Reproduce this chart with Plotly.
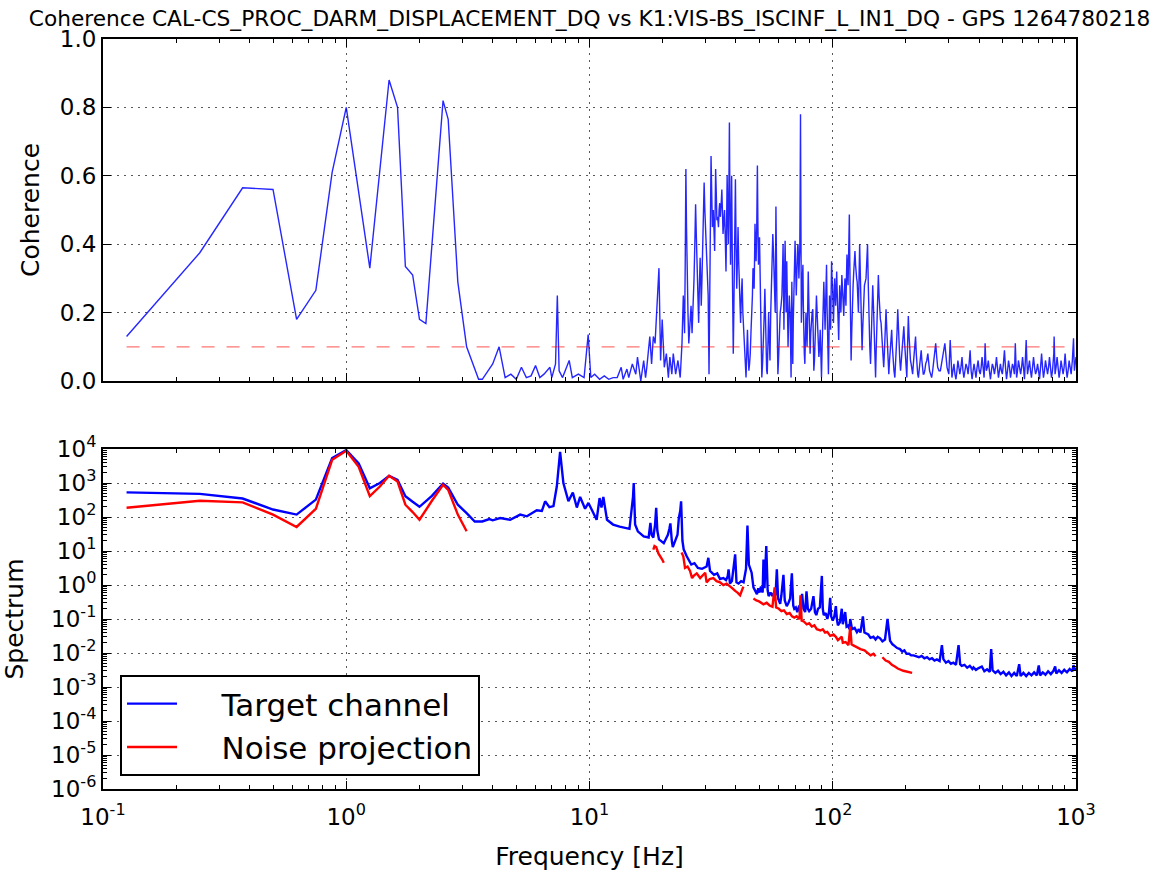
import plotly.graph_objects as go
from plotly.subplots import make_subplots

TITLE = "Coherence CAL-CS_PROC_DARM_DISPLACEMENT_DQ vs K1:VIS-BS_ISCINF_L_IN1_DQ - GPS 1264780218"
THRESHOLD = 0.1

# ---------------- Coherence (top panel) ----------------
coh_freq = [
    0.125, 0.25, 0.375, 0.5, 0.625, 0.75, 0.875, 1.0, 1.25, 1.5, 1.625, 1.75, 1.875, 2.0, 2.125, 2.5, 2.625, 2.875, 3.125, 3.5, 3.625, 4.0, 4.25,
    4.5, 4.75, 5.0, 5.25, 5.5, 5.75, 6.0, 6.25, 6.5, 6.875, 7.0, 7.25, 7.375, 7.5, 7.75, 8.25, 8.5, 9.0, 9.5, 9.875, 10.125, 10.5, 11.0, 11.5, 12.0, 12.5, 13.0, 13.5, 13.75, 14.25, 14.5, 15.0, 15.5, 15.75, 16.25,
    16.7, 17.0, 17.2, 17.7, 18.0, 18.3, 18.6, 18.9, 19.3, 19.6, 19.9, 20.3, 20.7, 21.1, 21.4, 21.8, 22.1, 22.6, 23.1, 23.6, 24.0, 24.3, 24.6, 24.9, 25.2, 25.6, 25.9, 26.4, 26.9, 27.3, 27.7, 28.1, 28.5, 28.8, 29.2, 29.6, 30.0, 30.5,
    31.0, 31.3, 31.6, 32.0, 32.3, 32.7, 33.0, 33.4, 33.9, 34.3, 34.7, 35.0, 35.4, 35.9, 36.4, 36.8, 37.2, 37.6, 38.0, 38.4, 39.0, 39.4, 39.8, 40.3, 40.8, 41.3, 41.8, 42.4, 43.0, 43.5, 44.0, 44.6, 45.2, 45.8, 46.5, 47.0, 47.5, 47.9,
    48.4, 49.0, 49.5, 50.0, 50.5, 51.1, 51.8, 52.6, 53.2, 53.8, 54.5, 55.2, 56.0, 56.7, 57.4, 58.0, 58.4, 58.9, 59.5, 60.2, 60.8, 61.8, 62.5, 63.0, 63.7, 64.3, 64.7, 65.5, 66.3, 66.8, 67.4, 67.9, 68.5, 69.2, 70.0, 70.8, 71.4, 72.0,
    72.6, 73.2, 73.7, 74.3, 74.8, 75.4, 76.0, 76.8, 77.6, 78.4, 79.3, 80.0, 80.7, 81.7, 82.8, 83.6, 84.6, 85.7, 86.8, 87.7, 88.8, 89.9, 91.0, 91.9, 93.0, 94.3, 95.2, 96.0, 97.0, 98.0, 98.9, 99.8, 100.7, 101.8, 102.8, 103.8,
    104.8, 105.8, 106.8, 108.0, 109.0, 110.0, 111.0, 112.2, 113.3, 114.4, 115.6, 117.0, 118.0, 119.0, 120.5, 122.0, 123.4, 124.8, 126.0, 127.5, 129.0, 130.5, 132.0, 133.5, 135.0, 137.0, 139.0, 141.0, 143.0, 146.0, 148.0, 150.0,
    152.0, 154.0, 156.0, 158.0, 160.0, 162.0, 164.0, 165.6, 168.0, 170.0, 172.5, 174.7, 177.0, 180.0, 182.5, 185.0, 187.5, 190.0, 193.0, 196.0, 199.0, 201.6, 204.5, 207.5, 210.0, 213.0, 216.0, 219.0, 222.0, 225.0, 228.0, 231.0,
    234.0, 237.0, 241.0, 246.0, 250.0, 255.0, 260.0, 265.0, 270.0, 277.0, 283.0, 289.0, 295.0, 300.0,
    304, 309, 315, 321, 327, 333, 340, 346, 353, 360, 367, 374, 381, 388, 396, 404, 411, 419, 423, 428, 436, 445, 453, 462, 471, 480, 489, 498, 508, 518, 528, 538, 548, 558, 563, 570, 580, 592, 603, 614,
    624, 632, 644, 656, 669, 682, 695, 708, 722, 735, 749, 764, 778, 793, 808, 813, 820, 836, 852, 868, 885, 902, 919, 937, 955, 977, 985, 1000,
]
coh_value = [
    0.13, 0.375, 0.565, 0.56, 0.18, 0.265, 0.61, 0.80, 0.33, 0.88, 0.80, 0.335, 0.31, 0.18, 0.168, 0.82, 0.765, 0.29, 0.10, 0.005, 0.005, 0.05, 0.10,
    0.01, 0.02, 0.005, 0.04, 0.01, 0.015, 0.045, 0.01, 0.02, 0.04, 0.01, 0.05, 0.25, 0.03, 0.01, 0.06, 0.01, 0.02, 0.01, 0.136, 0.01, 0.02, 0.005, 0.015, 0.005, 0.01, 0.01, 0.04, 0.005, 0.035, 0.01, 0.05, 0.02, 0.07, 0.0,
    0.06, 0.01, 0.04, 0.13, 0.05, 0.13, 0.11, 0.2, 0.33, 0.06, 0.18, 0.04, 0.08, 0.01, 0.07, 0.02, 0.08, 0.02, 0.06, 0.01, 0.11, 0.25, 0.14, 0.62, 0.29, 0.11, 0.18, 0.14, 0.3, 0.517, 0.3, 0.17, 0.36, 0.22, 0.385, 0.58, 0.45, 0.36,
    0.02, 0.3, 0.658, 0.45, 0.5, 0.38, 0.62, 0.47, 0.45, 0.52, 0.5, 0.56, 0.43, 0.5, 0.32, 0.6, 0.4, 0.756, 0.34, 0.6, 0.08, 0.35, 0.59, 0.27, 0.45, 0.29, 0.17, 0.3, 0.15, 0.05, 0.01, 0.15, 0.03, 0.08, 0.2, 0.33, 0.27, 0.46,
    0.35, 0.63, 0.34, 0.42, 0.15, 0.01, 0.1, 0.27, 0.05, 0.02, 0.2, 0.06, 0.3, 0.43, 0.33, 0.2, 0.51, 0.25, 0.02, 0.12, 0.2, 0.25, 0.4, 0.15, 0.41, 0.2, 0.35, 0.1, 0.25, 0.2, 0.01, 0.29, 0.05, 0.3, 0.41, 0.25, 0.38, 0.4,
    0.3, 0.39, 0.78, 0.17, 0.28, 0.34, 0.1, 0.05, 0.2, 0.1, 0.32, 0.15, 0.08, 0.2, 0.21, 0.03, 0.1, 0.25, 0.17, 0.07, 0.15, 0.01, 0.2, 0.29, 0.15, 0.34, 0.1, 0.02, 0.25, 0.15, 0.35, 0.28, 0.17, 0.3, 0.22, 0.32,
    0.2, 0.12, 0.28, 0.2, 0.31, 0.25, 0.19, 0.3, 0.22, 0.37, 0.28, 0.487, 0.2, 0.06, 0.25, 0.32, 0.38, 0.3, 0.29, 0.2, 0.40, 0.25, 0.09, 0.2, 0.28, 0.3, 0.40, 0.15, 0.05, 0.28, 0.15, 0.01,
    0.2, 0.31, 0.2, 0.17, 0.1, 0.04, 0.12, 0.21, 0.1, 0.02, 0.1, 0.15, 0.06, 0.01, 0.08, 0.21, 0.1, 0.03, 0.1, 0.16, 0.06, 0.01, 0.19, 0.08, 0.05, 0.02, 0.08, 0.13, 0.04, 0.01, 0.06, 0.09,
    0.03, 0.02, 0.05, 0.08, 0.03, 0.01, 0.06, 0.11, 0.04, 0.03, 0.08, 0.11, 0.04, 0.02,
    0.12, 0.01, 0.05, 0.005, 0.06, 0.02, 0.07, 0.01, 0.05, 0.02, 0.09, 0.005, 0.05, 0.01, 0.06, 0.02, 0.07, 0.01, 0.11, 0.03, 0.06, 0.005, 0.05, 0.02, 0.07, 0.01, 0.05, 0.02, 0.09, 0.005, 0.06, 0.01, 0.05, 0.02, 0.11, 0.01, 0.06, 0.02, 0.07, 0.005,
    0.12, 0.02, 0.06, 0.01, 0.07, 0.02, 0.05, 0.005, 0.08, 0.01, 0.06, 0.02, 0.07, 0.01, 0.06, 0.13, 0.02, 0.07, 0.01, 0.06, 0.02, 0.08, 0.01, 0.06, 0.02, 0.125, 0.03, 0.07,
]
coh_extra_freq = [
    24.45, 24.75, 25.05, 25.4, 25.75, 26.15, 26.65, 27.1, 27.5, 27.9, 28.3, 28.65, 29.0, 29.4, 29.8, 30.25, 30.75, 31.15, 31.45, 31.8, 32.15, 32.5, 32.85, 33.2, 33.65, 34.1, 34.5, 34.85, 35.2, 35.65,
    36.15, 36.6, 37.0, 37.4, 37.8, 38.2, 38.7, 39.2, 39.6, 40.05, 40.55, 41.05, 41.55, 42.1, 42.7, 43.25, 43.75, 44.3, 44.9, 45.5, 46.15, 46.75, 47.25, 47.7, 48.15, 48.7, 49.25, 49.75, 50.25, 50.8,
    51.45, 52.2, 52.9, 53.5, 54.15, 54.85, 55.6, 56.35, 57.05, 57.7, 58.2, 58.65, 59.2, 59.85, 60.5, 61.3, 62.15, 62.75, 63.35, 64.0, 64.5, 65.1, 65.9, 66.55, 67.1, 67.65, 68.2, 68.85, 69.6, 70.4,
    71.1, 71.7, 72.3, 72.9, 73.45, 74.0, 74.55, 75.1, 75.7, 76.4, 77.2, 78.0, 78.85, 79.65, 80.35, 81.2, 82.25, 83.2, 84.1, 85.15, 86.25, 87.25, 88.25, 89.35, 90.45, 91.45, 92.45, 93.65, 94.75, 95.6,
    96.5, 97.5, 98.45, 99.35, 100.25, 101.25, 102.3, 103.3, 104.3, 105.3, 106.3, 107.4, 108.5, 109.5, 110.5, 111.6, 112.75, 113.85, 115.0, 116.3, 117.5, 118.5, 119.75, 121.25, 122.7, 124.1, 125.4, 126.75, 128.25, 129.75,
    131.25, 132.75, 134.25, 136.0, 138.0, 140.0, 142.0, 144.5, 147.0, 149.0, 151.0, 153.0, 155.0, 157.0, 159.0, 161.0, 163.0, 164.8, 166.8, 169.0, 171.2, 173.6, 175.8, 178.5, 181.2, 183.7, 186.2, 188.7, 191.5, 194.5,
    197.5, 200.3, 203.0, 206.0, 208.7, 211.5, 214.5, 217.5, 220.5, 223.5, 226.5, 229.5, 232.5, 235.5, 239.0, 243.5, 248.0, 252.5, 257.5, 262.5, 267.5, 273.5, 280.0, 286.0, 292.0, 297.5,
    306.5, 312, 318, 324, 330, 336.5, 343, 349.5, 356.5, 363.5, 370.5, 377.5, 384.5, 392, 400, 407.5, 415, 421, 425.5, 432, 440.5, 449, 457.5, 466.5, 475.5, 484.5, 493.5, 503, 513, 523,
    533, 543, 553, 560.5, 566.5, 575, 586, 597.5, 608.5, 619, 628, 638, 650, 662.5, 675.5, 688.5, 701.5, 715, 728.5, 742, 756.5, 771, 785.5, 800.5, 810.5, 816.5, 828, 844, 860, 876.5,
    893.5, 910.5, 928, 946, 966, 981, 992.5,
]
coh_extra_value = [
    0.18, 0.35, 0.45, 0.2, 0.15, 0.22, 0.2, 0.4, 0.42, 0.25, 0.28, 0.3, 0.3, 0.5, 0.5, 0.4, 0.25, 0.15, 0.5, 0.55, 0.48, 0.42, 0.5, 0.55, 0.48, 0.5, 0.48, 0.53, 0.48, 0.47,
    0.42, 0.45, 0.5, 0.55, 0.5, 0.45, 0.3, 0.2, 0.45, 0.4, 0.35, 0.35, 0.22, 0.25, 0.2, 0.1, 0.03, 0.08, 0.08, 0.05, 0.15, 0.25, 0.3, 0.35, 0.4, 0.45, 0.45, 0.38, 0.3, 0.08,
    0.05, 0.18, 0.15, 0.03, 0.1, 0.12, 0.2, 0.35, 0.38, 0.28, 0.35, 0.38, 0.12, 0.06, 0.15, 0.22, 0.32, 0.28, 0.3, 0.3, 0.28, 0.22, 0.18, 0.22, 0.1, 0.15, 0.17, 0.18, 0.35, 0.33,
    0.3, 0.39, 0.35, 0.35, 0.55, 0.45, 0.22, 0.3, 0.22, 0.08, 0.12, 0.15, 0.2, 0.25, 0.12, 0.14, 0.2, 0.12, 0.06, 0.18, 0.2, 0.12, 0.1, 0.08, 0.1, 0.25, 0.22, 0.25, 0.22, 0.06,
    0.13, 0.2, 0.25, 0.3, 0.22, 0.24, 0.26, 0.27, 0.26, 0.16, 0.2, 0.24, 0.25, 0.28, 0.22, 0.25, 0.26, 0.3, 0.32, 0.38, 0.35, 0.13, 0.15, 0.28, 0.35, 0.34, 0.3, 0.25, 0.3, 0.32,
    0.17, 0.15, 0.24, 0.29, 0.35, 0.28, 0.1, 0.16, 0.22, 0.08, 0.1, 0.25, 0.25, 0.18, 0.14, 0.07, 0.08, 0.16, 0.15, 0.06, 0.06, 0.12, 0.1, 0.03, 0.05, 0.14, 0.15, 0.06, 0.06, 0.13,
    0.11, 0.03, 0.1, 0.13, 0.06, 0.03, 0.05, 0.1, 0.08, 0.02, 0.03, 0.07, 0.06, 0.02, 0.03, 0.06, 0.05, 0.02, 0.03, 0.08, 0.07, 0.03, 0.05, 0.09, 0.07, 0.03,
    0.03, 0.03, 0.02, 0.03, 0.04, 0.04, 0.03, 0.03, 0.04, 0.05, 0.03, 0.03, 0.03, 0.04, 0.03, 0.04, 0.04, 0.05, 0.06, 0.04, 0.03, 0.03, 0.04, 0.04, 0.04, 0.03, 0.03, 0.05, 0.04, 0.03,
    0.04, 0.03, 0.04, 0.06, 0.05, 0.03, 0.04, 0.04, 0.04, 0.06, 0.06, 0.04, 0.03, 0.04, 0.04, 0.03, 0.03, 0.04, 0.04, 0.03, 0.04, 0.04, 0.04, 0.03, 0.08, 0.07, 0.04, 0.04, 0.03, 0.04,
    0.04, 0.04, 0.03, 0.04, 0.06, 0.07, 0.05,
]

# ---------------- Spectrum (bottom panel): target channel ----------------
tgt_freq = [
    0.125, 0.25, 0.375, 0.5, 0.625, 0.75, 0.875, 1.0, 1.125, 1.25, 1.375, 1.5, 1.625, 1.75, 1.875, 2.0, 2.25, 2.5, 2.625, 2.875, 3.125, 3.375, 3.625, 3.875, 4.0, 4.29,
    4.72, 5.19, 5.53, 6.07, 6.37, 6.57, 6.84, 7.11, 7.34, 7.57, 7.81, 8.19, 8.54, 8.87, 9.15, 9.59, 9.90, 10.2, 10.7, 11.0, 11.2, 11.4, 11.8, 12.5, 13.3, 14.6, 15.1, 15.2, 15.4, 15.8, 16.7, 17.5, 17.8, 18.0, 18.3, 18.6, 18.8, 19.0, 19.3,
    20.2, 21.0, 21.3, 21.5, 21.8, 22.0, 23.0, 23.3, 23.6, 23.8, 24.1, 24.4, 25.1, 25.5, 26.2, 27.0, 27.9, 29.0, 30.3, 30.8, 31.3, 32.5, 33.5, 34.4, 35.5, 36.4, 37.0, 37.3, 37.8, 38.5, 39.3, 39.7, 40.2, 41.0, 42.0, 43.0, 44.0, 44.6, 45.2,
    46.4, 47.2, 48.0, 48.8, 49.4, 50.0, 50.7, 51.5, 51.9, 52.4, 53.3, 54.0, 54.5, 55.5, 56.6, 57.4, 58.2, 58.9, 59.6, 60.8, 61.5, 62.7, 63.5, 64.7, 65.8, 66.8, 67.9, 68.8, 69.5, 70.5, 71.5, 72.8, 73.7, 74.8, 75.8, 77.0, 78.0, 79.0, 80.0,
    81.5, 83.3, 84.5, 85.6, 87.0, 88.5, 90.2, 91.0, 91.8, 93.5, 95.0, 96.5, 97.6, 98.5, 100.0, 101.5, 103.0, 104.0, 105.0, 107.0, 108.9, 110.0, 112.5, 114.0, 116.0, 117.0, 118.0, 120.0, 123.0, 125.7, 128.0, 130.0, 133.0, 135.0, 137.0,
    140.0, 143.0, 147.0, 150.0, 153.0, 156.6, 160.0, 164.0, 167.9, 172.0, 176.0, 180.0, 184.0, 189.0, 193.0, 197.0, 201.0, 206.0, 210.0, 215.0, 220.0, 226.0, 232.0, 238.0, 244.0, 250.0, 256.0, 262.0, 268.0, 275.0, 281.0, 285.0,
    292.0, 299.0, 306.0, 313.0, 321.0, 329.0, 334.0, 339.0, 348.0, 357.0, 366.0, 375.0, 379.0, 388.0, 398.0, 410.0, 420.0, 431.0, 442.0, 448.0, 454.0, 466.0, 478.0, 490.0, 503.0, 516.0, 530.0, 543.0, 557.0, 571.0, 584.0, 592.0,
    608.0, 624.0, 640.0, 656.0, 673.0, 690.0, 703.0, 712.0, 730.0, 749.0, 768.0, 788.0, 808.0, 821.0, 830.0, 851.0, 873.0, 895.0, 918.0, 942.0, 966.0, 977.0, 990.0, 1000.0,
]
tgt_value = [
    530, 480, 350, 166, 118, 325, 5400, 9300, 3800, 700, 1000, 1630, 1230, 410, 280, 200, 420, 960, 730, 230, 130, 74, 74, 87, 80, 93,
    83, 118, 105, 158, 150, 290, 195, 210, 800, 8300, 1000, 290, 525, 190, 390, 175, 260, 170, 83, 360, 190, 390, 83, 60, 52, 45, 400, 1000, 60, 38, 27, 25, 67, 30, 25, 60, 187, 40, 22,
    17, 30, 45, 65, 20, 13, 30, 94, 150, 290, 20, 11, 7, 5.5, 4, 4.4, 3.2, 3.0, 3.5, 6.3, 2.6, 2.0, 2.2, 1.5, 1.6, 1.4, 1.8, 2.9, 1.1, 1.3, 4, 8, 1.2, 1.1, 1.3, 1.2, 3, 56, 4,
    2.3, 0.85, 0.7, 0.54, 0.8, 0.6, 0.9, 0.6, 5.6, 0.8, 14, 0.7, 0.47, 0.6, 0.47, 0.6, 0.5, 2.9, 0.4, 0.28, 0.5, 2.0, 0.35, 0.24, 0.3, 0.4, 2.2, 0.25, 0.2, 0.22, 0.16, 0.25, 0.2, 0.55, 0.2, 0.16, 0.65, 0.2, 0.17,
    0.2, 0.47, 0.16, 0.13, 0.2, 0.22, 1.85, 0.2, 0.13, 0.15, 0.1, 0.16, 0.42, 0.12, 0.09, 0.12, 0.24, 0.1, 0.065, 0.08, 0.2, 0.07, 0.16, 0.06, 0.065, 0.05, 0.1, 0.05, 0.055, 0.041, 0.05, 0.04, 0.12, 0.04, 0.037,
    0.035, 0.028, 0.03, 0.025, 0.03, 0.027, 0.022, 0.025, 0.10, 0.023, 0.018, 0.016, 0.014, 0.013, 0.011, 0.012, 0.0095, 0.0095, 0.0085, 0.0085, 0.008, 0.0075, 0.0082, 0.007, 0.0076, 0.0065, 0.007, 0.006, 0.0065, 0.0058, 0.017, 0.0066,
    0.0052, 0.0058, 0.0048, 0.0052, 0.0045, 0.017, 0.0047, 0.0042, 0.0045, 0.0037, 0.0042, 0.0034, 0.0038, 0.0032, 0.0036, 0.0040, 0.0029, 0.0033, 0.0028, 0.013, 0.0031, 0.0026, 0.003, 0.0024, 0.0028, 0.0022, 0.0027, 0.0021, 0.0026, 0.0021, 0.0047, 0.0021,
    0.0026, 0.0021, 0.0026, 0.0022, 0.0027, 0.0022, 0.0043, 0.0022, 0.0027, 0.0023, 0.0029, 0.0024, 0.003, 0.004, 0.0025, 0.0031, 0.0026, 0.0032, 0.0027, 0.0034, 0.0029, 0.0044, 0.0032, 0.0036,
]

# ---------------- Spectrum (bottom panel): noise projection ----------------
# None marks frequencies where the projection is not drawn (coherence below threshold)
proj_freq = [
    0.125, 0.25, 0.375, 0.5, 0.625, 0.75, 0.875, 1.0, 1.125, 1.25, 1.375, 1.5, 1.625, 1.75, 1.875, 2.0, 2.25, 2.5, 2.625, 2.875, 3.125, 3.2,
    18.3, 18.5, 18.8, 19.2, 19.9, 20.2, 21.0,
    23.9, 24.3, 24.7, 25.3, 25.9, 26.4, 26.8, 27.6, 28.5, 29.2, 29.9, 30.3, 31.2, 32.3, 33.3, 34.4, 35.5, 36.6, 37.8, 38.7, 39.7, 40.6, 41.6, 42.3, 42.9, 45.0,
    47.2, 48.5, 49.8, 50.8, 51.9, 53.5, 55.0, 56.5, 57.7, 58.5, 60.0, 61.5, 63.0, 64.7, 66.5, 68.0, 69.5, 71.0, 73.0, 73.7, 74.5, 76.0, 78.2, 80.0, 82.0, 84.0, 86.0, 89.0, 91.0, 93.0, 95.0, 97.6,
    100.7, 103.0, 105.0, 108.9, 110.0, 113.0, 116.0, 118.0, 119.5, 121.0, 125.0, 130.0, 135.0, 140.0, 143.0, 147.0, 150.0, 155.0,
    160.0, 165.0, 170.0, 175.0, 180.0, 185.0, 195.0, 205.0, 212.0,
]
proj_value = [
    187, 300, 270, 118, 51, 175, 4800, 8900, 3000, 410, 790, 1630, 1100, 230, 140, 83, 300, 890, 630, 118, 38, None,
    11, 14, 13, 8.5, 5.6, 4.5, None,
    9, 7, 3.2, 3.5, 2.6, 1.6, 1.85, 2.2, 1.6, 1.9, 2.3, 1.2, 1.5, 1.6, 1.3, 1.2, 1.0, 1.1, 0.93, 0.8, 0.67, 0.6, 0.5, 0.7, 0.9, None,
    0.4, 0.35, 0.33, 0.3, 0.27, 0.3, 0.25, 0.23, 0.85, 0.22, 0.2, 0.17, 0.18, 0.14, 0.15, 0.12, 0.11, 0.12, 0.1, 0.5, 0.09, 0.085, 0.07, 0.075, 0.06, 0.065, 0.05, 0.046, 0.05, 0.04, 0.042, 0.032,
    0.035, 0.03, 0.024, 0.03, 0.02, 0.021, 0.017, 0.06, 0.018, 0.017, 0.015, 0.013, 0.012, 0.01, 0.0085, 0.0095, 0.008, None,
    0.0075, 0.006, 0.0055, 0.0045, 0.004, 0.0035, 0.003, 0.0028, 0.0026,
]

# ---------------- Axis tick labels ----------------
x_tick_vals = [0.1, 1, 10, 100, 1000]
x_tick_text = ["10<sup>-1</sup>", "10<sup>0</sup>", "10<sup>1</sup>", "10<sup>2</sup>", "10<sup>3</sup>"]
coh_tick_vals = [0.0, 0.2, 0.4, 0.6, 0.8, 1.0]
coh_tick_text = ["0.0", "0.2", "0.4", "0.6", "0.8", "1.0"]
spec_tick_vals = [1e-6, 1e-5, 1e-4, 1e-3, 1e-2, 1e-1, 1, 10, 100, 1000, 10000]
spec_tick_text = ["10<sup>-6</sup>", "10<sup>-5</sup>", "10<sup>-4</sup>", "10<sup>-3</sup>", "10<sup>-2</sup>",
                  "10<sup>-1</sup>", "10<sup>0</sup>", "10<sup>1</sup>", "10<sup>2</sup>", "10<sup>3</sup>", "10<sup>4</sup>"]

FONT = "DejaVu Sans"
NBSP = "\u00a0"

# minor (log) tick positions: 2..9 within each decade (axis decoration, drawn on overlay axes)
x_minor = [k * 10.0 ** e for e in range(-1, 3) for k in range(2, 10)]
y_minor = [k * 10.0 ** e for e in range(-6, 4) for k in range(2, 10)]

# merge the coherence bins into one frequency-ordered trace
coh_pairs = sorted(zip(coh_freq + coh_extra_freq, coh_value + coh_extra_value))
coh_x = [p[0] for p in coh_pairs]
coh_y = [p[1] for p in coh_pairs]

fig = make_subplots(rows=2, cols=1, shared_xaxes=True)

fig.add_trace(go.Scatter(x=coh_x, y=coh_y, mode="lines",
                         line=dict(color="rgba(0,0,255,0.85)", width=1.4), showlegend=False), row=1, col=1)
fig.add_trace(go.Scatter(x=[coh_x[0], coh_x[-1]], y=[THRESHOLD, THRESHOLD], mode="lines",
                         line=dict(color="rgba(255,0,0,0.55)", width=1.3, dash="13px,12px"), showlegend=False), row=1, col=1)

fig.add_trace(go.Scatter(x=tgt_freq, y=tgt_value, mode="lines", name=NBSP * 4 + "Target channel",
                         line=dict(color="#0000ff", width=2.4)), row=2, col=1)
fig.add_trace(go.Scatter(x=proj_freq, y=proj_value, mode="lines", name=NBSP * 4 + "Noise projection", connectgaps=False,
                         line=dict(color="#ff0000", width=2.4)), row=2, col=1)

# empty helper traces so that the minor-tick overlay axes are drawn
fig.add_trace(go.Scatter(x=[None], y=[None], xaxis="x3", yaxis="y2", showlegend=False, hoverinfo="skip"))
fig.add_trace(go.Scatter(x=[None], y=[None], xaxis="x4", yaxis="y", showlegend=False, hoverinfo="skip"))
fig.add_trace(go.Scatter(x=[None], y=[None], xaxis="x2", yaxis="y3", showlegend=False, hoverinfo="skip"))

grid = dict(showgrid=True, gridcolor="rgba(0,0,0,0.65)", gridwidth=1, griddash="2px,5px")
axis_common = dict(showline=True, linecolor="black", linewidth=2, mirror="ticks", automargin=False,
                   ticks="inside", ticklen=8, tickwidth=1, tickcolor="black", zeroline=False,
                   tickfont=dict(family=FONT, size=23, color="black"), **grid)

fig.update_xaxes(type="log", range=[-1, 3], tickmode="array", tickvals=x_tick_vals, ticktext=x_tick_text,
                 **axis_common)
fig.update_xaxes(showticklabels=False, row=1, col=1)
fig.update_xaxes(ticklabelstandoff=6,
                 title=dict(text="Frequency [Hz]", font=dict(family=FONT, size=25, color="black"), standoff=19),
                 row=2, col=1)

fig.update_yaxes(range=[0, 1], tickmode="array", tickvals=coh_tick_vals, ticktext=coh_tick_text,
                 domain=[0.544, 1.0], title=dict(text="Coherence", font=dict(family=FONT, size=25, color="black"), standoff=13),
                 **axis_common, row=1, col=1)
fig.update_yaxes(type="log", range=[-6, 4], tickmode="array", tickvals=spec_tick_vals, ticktext=spec_tick_text,
                 domain=[0.0, 0.4533], title=dict(text="Spectrum", font=dict(family=FONT, size=25, color="black"), standoff=33),
                 **axis_common, row=2, col=1)

minor_axis = dict(tickmode="array", ticks="inside", ticklen=4, tickwidth=1, tickcolor="black",
                  showticklabels=False, showgrid=False, zeroline=False, automargin=False,
                  showline=True, linecolor="black", linewidth=2, mirror="ticks")
fig.update_layout(
    xaxis3=dict(type="log", range=[-1, 3], tickvals=x_minor, overlaying="x2", anchor="y2", **minor_axis),
    xaxis4=dict(type="log", range=[-1, 3], tickvals=x_minor, overlaying="x", anchor="y", **minor_axis),
    yaxis3=dict(type="log", range=[-6, 4], tickvals=y_minor, overlaying="y2", anchor="x2", side="left", **minor_axis),
)

fig.update_layout(
    width=1157, height=879,
    margin=dict(l=103, r=81, t=39, b=90),
    paper_bgcolor="white", plot_bgcolor="white",
    font=dict(family=FONT, color="black"),
    title=dict(text=TITLE, x=0.5, xanchor="center", xref="paper", y=0.979, yanchor="middle",
               font=dict(family=FONT, size=21.7, color="black")),
    legend=dict(x=0.0175, y=0.152, xanchor="left", yanchor="top", bgcolor="white",
                bordercolor="black", borderwidth=2, font=dict(family=FONT, size=31, color="black"),
                itemwidth=50, tracegroupgap=0),
)

# remove the default 8 px page margin so the figure fills the window exactly; hide the mode bar
fig.write_html("out.html", config={"displayModeBar": False},
               post_script="document.body.style.margin='0px';")
